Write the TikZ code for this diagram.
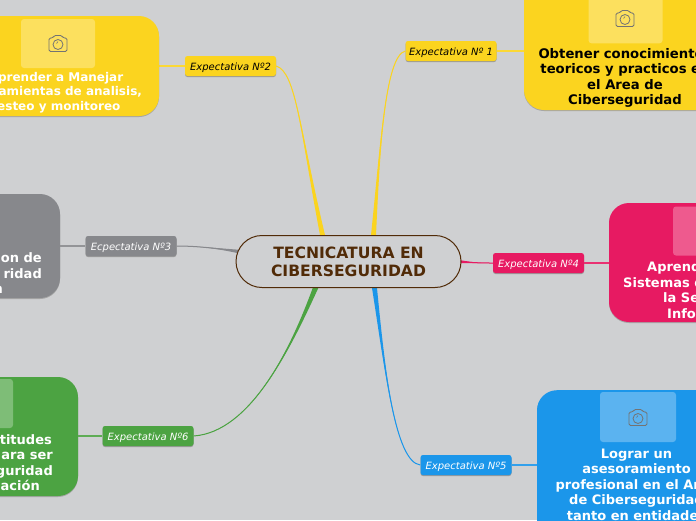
\documentclass[tikz,border=0pt]{standalone}
\usepackage{xcolor}
\usepackage{fontspec}
\setmainfont{DejaVu Sans}
\usetikzlibrary{calc,shadows,backgrounds}
\definecolor{sheetGrey}{HTML}{CFD0D2}
\definecolor{rootBrown}{HTML}{512B08}
\definecolor{ideaYellow}{HTML}{FBD41F}
\definecolor{ideaGrey}{HTML}{87888C}
\definecolor{ideaPink}{HTML}{E71A62}
\definecolor{ideaBlue}{HTML}{1B96EA}
\definecolor{ideaGreen}{HTML}{4CA342}

% tapered branch: colour, start, control, control, end, half width at the start
\newcommand{\branch}[6]{
    \fill[#1] ($#2+#6$) .. controls #3 and #4 .. #5
        .. controls #4 and #3 .. ($#2-#6$) -- cycle;
    \draw[#1, line width=1pt] #2 .. controls #3 and #4 .. #5;
}

\begin{document}
\begin{tikzpicture}[
            x=1pt,
            y=-1pt,
            rootbox/.style={
                draw=rootBrown,
                fill=sheetGrey,
                line width=1pt,
                rounded corners=26pt,
                minimum width=225pt,
                minimum height=52pt,
                inner sep=0pt,
                align=center,
                text=rootBrown,
                font=\fontsize{15.6}{18}\selectfont\bfseries
            },
            tagbox/.style={
                fill=#1,
                copy shadow={shadow xshift=0pt, shadow yshift=-1pt, draw=none, fill=black!40},
                rounded corners=2.5pt,
                minimum width=91pt,
                minimum height=20pt,
                inner sep=0pt,
                text height=8pt,
                text depth=0pt,
                text=white,
                font=\fontsize{10}{12}\selectfont\itshape
            },
            cardbox/.style={
                fill=#1,
                copy shadow={shadow xshift=0pt, shadow yshift=-1pt, draw=none, fill=black!35},
                rounded corners=20pt,
                minimum width=202pt,
                inner sep=0pt
            },
            shotbox/.style={
                fill=#1!72!white,
                rounded corners=3pt,
                minimum width=74pt,
                minimum height=49pt,
                inner sep=0pt
            },
            cardtext/.style={
                inner sep=0pt,
                align=center,
                text=white,
                font=\fontsize{13}{15.5}\selectfont\bfseries
            },
            twig/.style={
                line width=1.1pt
            },
            camera/.pic={
                \draw[black!55, line width=0.8pt, rounded corners=1.5pt]
                    (-9,-5.5) -- (-5,-5.5) -- (-4,-8) -- (4,-8) -- (5,-5.5)
                    -- (9,-5.5) -- (9,8) -- (-9,8) -- cycle;
                \draw[black!55, line width=0.8pt] (0,1) circle (5);
                \draw[black!55, line width=0.6pt] (-1.5,0) -- (0,-2);
            }
        ]

        \clip (0,0) rectangle (696,520);

        % --- Centre ---
        \node[rootbox] (root) at (348.5,261.5)
            {TECNICATURA EN\\CIBERSEGURIDAD};

        % --- Expectativa 1 ---
        \node[tagbox=ideaYellow, text=black] (tag1) at (451,51)
            {Expectativa Nº 1};
        \node[cardbox=ideaYellow, minimum height=130pt] (card1) at (625,45) {};
        \node[shotbox=ideaYellow, anchor=south] (shot1) at (625.5,43.5) {};
        \pic at (625,18.5) {camera};
        \node[cardtext, text=black, font=\fontsize{13.2}{15.5}\selectfont\bfseries] (text1) at (625,78)
            {Obtener conocimientos\\teoricos y practicos en\\el Area de\\Ciberseguridad};

        % --- Expectativa 2 ---
        \node[tagbox=ideaYellow, text=black] (tag2) at (230.5,66)
            {Expectativa Nº2};
        \node[cardbox=ideaYellow, minimum height=100pt] (card2) at (58,66) {};
        \node[shotbox=ideaYellow] (shot2) at (58,43.5) {};
        \pic at (58,43.5) {camera};
        \node[cardtext, font=\fontsize{12}{14.5}\selectfont\bfseries] (text2) at (56,92.5)
            {Aprender a Manejar\\herramientas de analisis,\\testeo y monitoreo};

        % --- Ecpectativa 3 ---
        \node[tagbox=ideaGrey] (tag3) at (131,246)
            {Ecpectativa Nº3};
        \node[cardbox=ideaGrey, minimum height=104pt] (card3) at (-41,246) {};
        \node[cardtext, anchor=east, align=right] (text3) at (42,273.5)
            {ion de\\ridad\hspace*{8pt}\\n\hspace*{39pt}};

        % --- Expectativa 4 ---
        \node[tagbox=ideaPink] (tag4) at (538.5,263)
            {Expectativa Nº4};
        \node[cardbox=ideaPink, minimum height=119pt] (card4) at (710,262.5) {};
        \node[shotbox=ideaPink] (shot4) at (710,231) {};
        \node[cardtext, anchor=west, align=left] (text4) at (623,290)
            {\hspace*{24pt}Aprend\\Sistemas d\\\hspace*{40pt}la Se\\\hspace*{44pt}Info};

        % --- Expectativa 5 ---
        \node[tagbox=ideaBlue] (tag5) at (466,465)
            {Expectativa Nº5};
        \node[cardbox=ideaBlue, anchor=north, minimum height=180pt] (card5) at (638,390) {};
        \node[shotbox=ideaBlue, minimum width=76pt, minimum height=50pt] (shot5) at (638,417) {};
        \pic at (638,417.5) {camera};
        \node[cardtext] (text5) at (636.5,484.5)
            {Lograr un\\asesoramiento\\profesional en el Area\\de Ciberseguridad\\tanto en entidades};

        % --- Expectativa 6 ---
        \node[tagbox=ideaGreen] (tag6) at (148,436)
            {Expectativa Nº6};
        \node[cardbox=ideaGreen, minimum height=119pt] (card6) at (-23,436.5) {};
        \node[shotbox=ideaGreen] (shot6) at (-24,403.5) {};
        \node[cardtext, anchor=east, align=right] (text6) at (53,462.5)
            {ptitudes\hspace*{1pt}\\ara ser\hspace*{8pt}\\guridad\\nación\hspace*{13pt}};

        % --- Connectors ---
        \begin{pgfonlayer}{background}
            \fill[sheetGrey] (0,0) rectangle (696,520);

            \branch{ideaYellow}{([xshift=-26pt]root.north)}{(300,130)}{(296,72)}{(tag2.east)}{(2.5,0)}
            \branch{ideaYellow}{([xshift=25pt]root.north)}{(380,150)}{(385,56)}{(tag1.west)}{(2.5,0)}
            \branch{ideaGrey}{([xshift=3pt,yshift=10pt]root.west)}{(215,248)}{(195,246)}{(tag3.east)}{(0,1.8)}
            \branch{ideaPink}{([xshift=-2pt]root.east)}{(475,263)}{(485,263)}{(tag4.west)}{(0,1.5)}
            \branch{ideaBlue}{([xshift=26pt]root.south)}{(385,370)}{(395,462)}{(tag5.west)}{(2.5,0)}
            \branch{ideaGreen}{([xshift=-33pt]root.south)}{(290,350)}{(250,432)}{(tag6.east)}{(2.8,0)}

            \draw[twig, ideaYellow!90!white] (card1.west |- tag1.east) -- (tag1.east);
            \draw[twig, ideaYellow!90!white] (card2.east |- tag2.west) -- (tag2.west);
            \draw[twig, ideaGrey!90!white] (card3.east |- tag3.west) -- (tag3.west);
            \draw[twig, ideaPink!90!white] (card4.west |- tag4.east) -- (tag4.east);
            \draw[twig, ideaBlue!90!white] (card5.west |- tag5.east) -- (tag5.east);
            \draw[twig, ideaGreen!90!white] (card6.east |- tag6.west) -- (tag6.west);
        \end{pgfonlayer}
        \end{tikzpicture}
\end{document}
